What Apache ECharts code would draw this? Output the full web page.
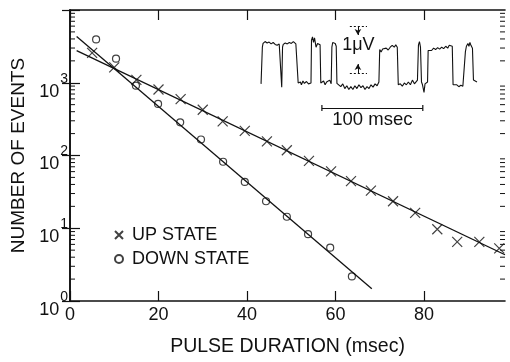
<!DOCTYPE html>
<html>
<head>
<meta charset="utf-8">
<script src="https://cdn.jsdelivr.net/npm/echarts@6/dist/echarts.min.js"></script>
<style>
  html, body { margin: 0; padding: 0; background: #fff; }
  #chart { width: 510px; height: 362px; }
</style>
</head>
<body>
<div id="chart"></div>
<script>
// histogram points (pulse duration in msec, number of events)
const upX = [5, 10, 15, 20, 25, 30, 34.5, 39.5, 44.5, 49, 54, 59, 63.5, 68, 73, 78, 83, 87.5, 92.5, 97]
const upY = [2575, 1629, 1096, 808, 595, 426, 295, 218, 156, 118, 84.5, 60.4, 44.5, 32.9, 23.5, 16.3, 9.7, 6.5, 6.5, 5.3]
const downX = [5.9, 10.4, 14.9, 19.9, 24.9, 29.6, 34.6, 39.5, 44.3, 49, 53.8, 58.8, 63.7]
const downY = [3945, 2143, 913, 511, 286, 166, 82, 43.3, 23.5, 14.4, 8.3, 5.4, 2.18]

// fitted exponentials (straight on the log axis)
const upFitX = [1.5, 98.3]
const upFitY = [2760, 4.32]
const downFitX = [1.5, 68.2]
const downFitY = [4325, 1.47]

// axis ticks
const xTicks = [0, 20, 40, 60, 80]
const yDecades = [0, 1, 2, 3]

// inset recording: [time msec, microvolts]
const trace = [
  [5, 0.62], [5.8, 0.63], [6.3, 1.40], [7, 1.48], [9, 1.52], [11, 1.49], [13, 1.51], [15, 1.47],
  [17, 1.50], [19, 1.46], [21, 1.44], [23, 1.47], [24.8, 1.43], [25.5, 0.55], [26.3, 1.40], [27, 1.46],
  [29, 1.49], [31, 1.47], [33, 1.50], [35, 1.48], [37, 1.52], [39.5, 1.47], [41, 1.45], [41.8, 0.64],
  [44, 0.66], [45, 0.60], [46.5, 0.68], [48, 0.63], [50, 0.67], [52, 0.62], [53.5, 0.66], [54.5, 0.64],
  [55, 1.55], [56, 1.62], [57, 1.50], [58, 1.60], [59.5, 1.40], [61, 1.48], [62.5, 1.50], [63.5, 1.45],
  [64.2, 0.64], [65.5, 0.62], [67, 0.68], [68.5, 0.60], [70, 0.66], [71.5, 0.64], [73, 0.70], [74.5, 0.62],
  [75.2, 1.40], [76, 1.50], [77, 1.46], [78.5, 1.48], [79.5, 1.42], [80.2, 0.63], [82, 0.60], [84, 0.56],
  [86, 0.62], [88, 0.52], [90, 0.58], [92, 0.50], [94, 0.56], [96, 0.50], [98, 0.58], [100, 0.52],
  [102, 0.60], [104, 0.54], [106, 0.58], [108, 0.50], [110, 0.56], [112, 0.52], [114, 0.60], [116, 0.55],
  [118, 0.62], [120, 0.58], [121.8, 0.66], [122.6, 1.35], [124, 1.30], [125.5, 1.36], [127, 1.33], [129, 1.38],
  [131, 1.34], [133, 1.40], [135, 1.44], [137, 1.40], [138.5, 1.45], [140, 1.40], [141, 0.60], [143, 0.62],
  [145, 0.57], [147, 0.64], [149, 0.60], [151, 0.66], [153, 0.60], [155, 0.70], [157, 0.62], [158.5, 0.58],
  [160, 0.70], [161, 1.45], [162, 1.52], [163, 1.40], [164, 0.66], [165, 0.60], [166.5, 0.44], [167.5, 0.62],
  [169, 0.58], [170, 0.66], [170.6, 1.33], [172, 1.37], [174, 1.33], [176, 1.38], [178, 1.35], [180, 1.39],
  [182, 1.36], [184, 1.40], [186, 1.37], [188, 1.42], [190, 1.38], [191.5, 1.44], [193, 1.40], [194.5, 1.42],
  [195.3, 0.60], [197, 0.57], [199, 0.60], [201, 0.56], [203, 0.59], [205, 0.57], [206.5, 0.60], [207.5, 1.30],
  [208.5, 1.42], [210, 1.48], [211, 1.42], [212, 1.50], [213, 1.44], [214.5, 1.38], [215.5, 0.70], [217, 0.68],
  [219, 0.66]
]

const FONT = 'Liberation Sans'
const INK = '#111'
const X_MAX = 98.3

// 2..9 within each decade, for the small ticks on both log axes
const minorTicks = []
yDecades.forEach(d => {
  for (let k = 2; k <= 9; k++) minorTicks.push([0, k * Math.pow(10, d)])
})

const crossSymbol = 'path://M0,0L10,10M10,0L0,10'

const chart = echarts.init(document.getElementById('chart'))

const option = {
  animation: false,
  backgroundColor: '#fff',
  textStyle: { fontFamily: FONT, color: INK },
  grid: [
    { left: 70, right: 5, top: 10, bottom: 50 },
    { left: 256, width: 222, top: 19, height: 94 },
  ],
  legend: {
    left: 109,
    top: 221,
    orient: 'vertical',
    itemGap: 6,
    itemWidth: 8,
    itemHeight: 8,
    selectedMode: false,
    textStyle: { fontSize: 18, fontFamily: FONT, color: INK, padding: [0, 0, 0, 4] },
    data: ['UP STATE', 'DOWN STATE'],
  },
  xAxis: [
    {
      gridIndex: 0,
      type: 'value',
      min: 0,
      max: X_MAX,
      position: 'bottom',
      name: 'PULSE DURATION (msec)',
      nameLocation: 'middle',
      nameGap: 36,
      nameTextStyle: { fontSize: 19.5, fontFamily: FONT, color: INK },
      axisLine: { lineStyle: { color: INK, width: 1.6 } },
      axisTick: { inside: true, length: 10, customValues: xTicks, lineStyle: { color: INK, width: 1.2 } },
      axisLabel: { customValues: xTicks, fontSize: 18, margin: 5, color: INK, fontFamily: FONT },
      splitLine: { show: false },
    },
    {
      gridIndex: 0,
      type: 'value',
      min: 0,
      max: X_MAX,
      position: 'top',
      axisLine: { lineStyle: { color: INK, width: 1.6 } },
      axisTick: { inside: true, length: 10, customValues: xTicks, lineStyle: { color: INK, width: 1.2 } },
      axisLabel: { show: false },
      splitLine: { show: false },
    },
    { gridIndex: 1, type: 'value', min: 0, max: 220, show: false },
  ],
  yAxis: [
    {
      gridIndex: 0,
      type: 'log',
      logBase: 10,
      min: 1,
      max: 10000,
      position: 'left',
      name: 'NUMBER OF EVENTS',
      nameLocation: 'middle',
      nameGap: 41,
      nameTextStyle: { fontSize: 19, fontFamily: FONT, color: INK },
      axisLine: { show: true, lineStyle: { color: INK, width: 1.6 } },
      axisTick: { inside: true, length: 10, lineStyle: { color: INK, width: 1.2 } },
      axisLabel: {
        margin: 2,
        color: INK,
        padding: [7, 0, 0, 0],
        formatter: v => {
          const e = Math.round(Math.log10(v))
          return yDecades.indexOf(e) < 0 ? '' : '{b|10}{s|' + e + '}'
        },
        rich: {
          b: { fontSize: 18, fontFamily: FONT, color: INK, verticalAlign: 'bottom' },
          s: { fontSize: 14, fontFamily: FONT, color: INK, verticalAlign: 'top', padding: [0, 0, 15, 1] },
        },
      },
      splitLine: { show: false },
    },
    {
      gridIndex: 0,
      type: 'log',
      logBase: 10,
      min: 1,
      max: 10000,
      position: 'right',
      axisLine: { show: true, lineStyle: { color: INK, width: 1.6 } },
      axisTick: { inside: true, length: 8, lineStyle: { color: INK, width: 1.2 } },
      axisLabel: { show: false },
      splitLine: { show: false },
    },
    { gridIndex: 1, type: 'value', min: 0, max: 2, show: false },
  ],
  series: [
    {
      type: 'custom',
      name: 'minor',
      xAxisIndex: 0,
      yAxisIndex: 0,
      silent: true,
      clip: false,
      data: minorTicks,
      renderItem: (params, api) => {
        const v = api.value(1)
        const l = api.coord([0, v])
        const r = api.coord([X_MAX, v])
        const st = { stroke: INK, lineWidth: 1 }
        return {
          type: 'group',
          children: [
            { type: 'line', shape: { x1: l[0], y1: l[1], x2: l[0] + 5, y2: l[1] }, style: st },
            { type: 'line', shape: { x1: r[0] - 5, y1: r[1], x2: r[0], y2: r[1] }, style: st },
          ],
        }
      },
    },
    {
      type: 'line',
      name: 'up fit',
      xAxisIndex: 0,
      yAxisIndex: 0,
      symbol: 'none',
      silent: true,
      lineStyle: { color: INK, width: 1.3 },
      data: upFitX.map((x, i) => [x, upFitY[i]]),
    },
    {
      type: 'line',
      name: 'down fit',
      xAxisIndex: 0,
      yAxisIndex: 0,
      symbol: 'none',
      silent: true,
      lineStyle: { color: INK, width: 1.3 },
      data: downFitX.map((x, i) => [x, downFitY[i]]),
    },
    {
      type: 'scatter',
      name: 'UP STATE',
      xAxisIndex: 0,
      yAxisIndex: 0,
      symbol: crossSymbol,
      symbolSize: 10,
      itemStyle: { color: 'transparent', borderColor: INK, borderWidth: 1.2 },
      data: upX.map((x, i) => [x, upY[i]]),
    },
    {
      type: 'scatter',
      name: 'DOWN STATE',
      xAxisIndex: 0,
      yAxisIndex: 0,
      symbol: 'circle',
      symbolSize: 7,
      itemStyle: { color: 'transparent', borderColor: INK, borderWidth: 1.2 },
      data: downX.map((x, i) => [x, downY[i]]),
    },
    {
      type: 'line',
      name: 'trace',
      xAxisIndex: 2,
      yAxisIndex: 2,
      symbol: 'none',
      clip: false,
      silent: true,
      lineStyle: { color: INK, width: 1.1 },
      data: trace,
      markLine: {
        silent: true,
        symbol: 'none',
        lineStyle: { color: INK, width: 1, type: 'solid' },
        label: { show: false },
        data: [
          [
            { coord: [65.3, 0.106], symbol: 'rect', symbolSize: [6, 1.2],
              label: { show: true, position: 'insideMiddleBottom', formatter: '100 msec', fontSize: 18.5, fontFamily: FONT, color: INK, distance: 2 } },
            { coord: [165.3, 0.106], symbol: 'rect', symbolSize: [6, 1.2] },
          ],
          [
            { coord: [93, 1.85], lineStyle: { type: [2, 2] } },
            { coord: [110, 1.85] },
          ],
          [
            { coord: [93, 0.85], lineStyle: { type: [2, 2] } },
            { coord: [110, 0.85] },
          ],
          [
            { coord: [101, 1.85] },
            { coord: [101, 1.66], symbol: 'arrow', symbolSize: [5, 6] },
          ],
          [
            { coord: [101, 0.85] },
            { coord: [101, 1.04], symbol: 'arrow', symbolSize: [5, 6] },
          ],
        ],
      },
      markPoint: {
        silent: true,
        symbol: 'rect',
        symbolSize: 1,
        itemStyle: { color: 'transparent' },
        data: [
          { coord: [101.5, 1.45], label: { show: true, position: 'inside', formatter: '1\u03bcV', fontSize: 18, fontFamily: FONT, color: INK } },
        ],
      },
    },
  ],
}

chart.setOption(option)
</script>
</body>
</html>
